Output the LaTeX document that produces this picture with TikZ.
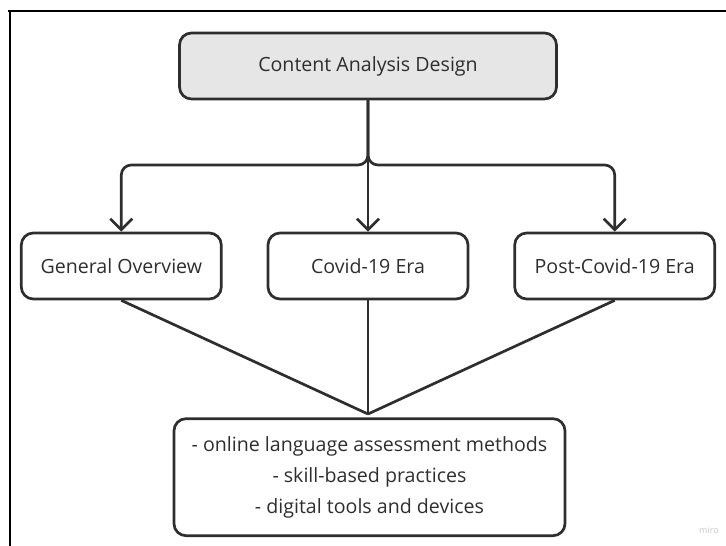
\documentclass[tikz,border=0pt]{standalone}
\usepackage{fontspec}
\setmainfont{Open Sans}
\usetikzlibrary{arrows.meta}
\usetikzlibrary{positioning}

\definecolor{linegray}{HTML}{2E2E2E}
\definecolor{headfill}{HTML}{E6E6E6}

\begin{document}
\begin{tikzpicture}
        [x=1pt, y=-1pt, node distance=44pt,
         box/.style={draw=linegray, line width=2.7pt, rounded corners=12pt,
                     minimum width=200pt, minimum height=66pt, inner sep=0pt,
                     text=linegray, font=\fontsize{19.6}{31}\selectfont},
         link/.style={draw=linegray, line width=2.7pt},
         arr/.style={link, -{Straight Barb[length=11pt, width=22pt, line width=2.7pt]}}]
        \useasboundingbox (0,0) rectangle (726,546);
        % frame of the board
        \draw [line width=2.8pt] (8,11) -- (726,11);
        \draw [line width=2.8pt] (10,11) -- (10,546);

        \node [box, fill=headfill, minimum width=377pt] (design) at (368,66) {Content Analysis Design};
        \node [box] (covid) at (368,266) {Covid-19 Era};
        \node [box, left=of covid] (overview) {General Overview};
        \node [box, right=of covid] (post) {Post-Covid-19 Era};
        \node [box, below=117pt of covid, minimum width=391pt, minimum height=117pt,
               align=center, xshift=1.5pt] (topics)
              {- online language assessment methods\\ - skill-based practices\\ - digital tools and devices};
        \coordinate (fork) at (368,165);
        \coordinate (meet) at (368,414);

        \draw [arr, rounded corners=10pt] (design.south) -- (fork) -| (overview.north);
        \draw [arr, rounded corners=10pt] (design.south) -- (fork) -| (post.north);
        \draw [arr] (design.south) -- (covid.north);

        \draw [link] (overview.south) -- (meet);
        \draw [link] (covid.south) -- (meet);
        \draw [link] (post.south) -- (meet);

        \node [text=black!22, font=\fontsize{9}{9}\selectfont] (miro) at (709,530) {miro};
    \end{tikzpicture}
\end{document}
